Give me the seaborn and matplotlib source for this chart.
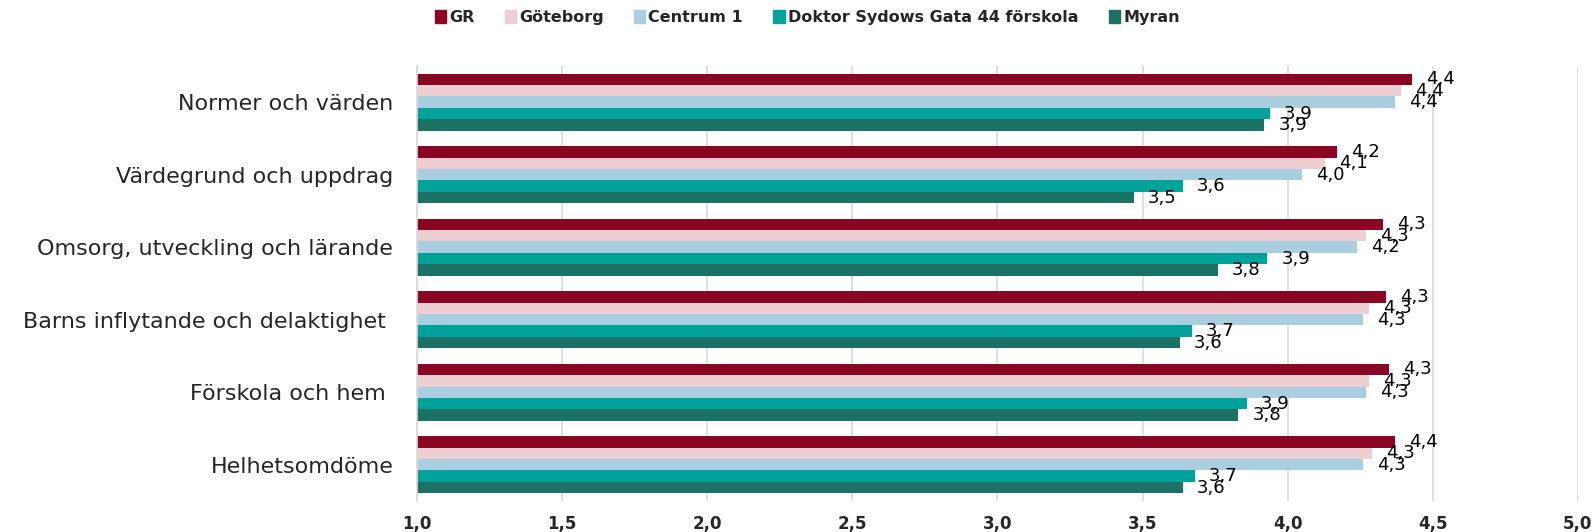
import pandas as pd
import numpy as np
import matplotlib.pyplot as plt
import seaborn as sns

sns.set_theme(style='white')
plt.rcParams['font.family'] = ['DejaVu Sans']

# data
categories = ['Normer och värden', 'Värdegrund och uppdrag',
              'Omsorg, utveckling och lärande',
              'Barns inflytande och delaktighet ', 'Förskola och hem ',
              'Helhetsomdöme']
series = ['GR', 'Göteborg', 'Centrum 1', 'Doktor Sydows Gata 44 förskola', 'Myran']
gr = [4.43, 4.17, 4.33, 4.34, 4.35, 4.37]
goteborg = [4.39, 4.13, 4.27, 4.28, 4.28, 4.29]
centrum = [4.37, 4.05, 4.24, 4.26, 4.27, 4.26]
doktor = [3.94, 3.64, 3.93, 3.67, 3.86, 3.68]
myran = [3.92, 3.47, 3.76, 3.63, 3.83, 3.64]
colors = ['#8B0623', '#EDCFD1', '#A9CEE0', '#00A29A', '#1B7165']

xticks = [1.0, 1.5, 2.0, 2.5, 3.0, 3.5, 4.0, 4.5, 5.0]

values = [gr, goteborg, centrum, doktor, myran]
df = pd.DataFrame({
    'kategori': categories * len(series),
    'enhet': np.repeat(series, len(categories)),
    'varde': np.concatenate(values),
})

fig = plt.figure(figsize=(15.95, 5.32), dpi=100)
ax = fig.add_axes([0.2614, 0.0583, 0.9893 - 0.2614, 0.876 - 0.0583])

sns.barplot(data=df, y='kategori', x='varde', hue='enhet', hue_order=series,
            palette=colors, orient='h', width=0.79, saturation=1,
            linewidth=0, ax=ax, legend=True)

# vardeetiketter med decimalkomma
for cont, vals in zip(ax.containers, values):
    ax.bar_label(cont, labels=[f'{v:.1f}'.replace('.', ',') for v in vals],
                 padding=10, fontsize=13, color='black')

ax.set_xlim(1.0, 5.0)
ax.set_xticks(xticks)
ax.set_xticklabels([f'{t:.1f}'.replace('.', ',') for t in xticks],
                   fontsize=12, fontweight='bold')
ax.tick_params(axis='x', length=0, pad=10)
ax.tick_params(axis='y', which='major', length=0, pad=17, labelsize=16)
ax.set_yticks(np.arange(-0.5, len(categories), 1.0), minor=True)
ax.tick_params(axis='y', which='minor', length=5, color='#D9D9D9', direction='out')
ax.set_xlabel('')
ax.set_ylabel('')
ax.grid(axis='x', color='#D9D9D9', linewidth=1.2)
ax.set_axisbelow(True)
for s in ['top', 'right', 'bottom']:
    ax.spines[s].set_visible(False)
ax.spines['left'].set_color('#D9D9D9')

ax.legend_.remove()
handles = [plt.Rectangle((0, 0), 1, 1, color=c) for c in colors]
fig.legend(handles, series, loc='center', bbox_to_anchor=(0.506, 0.967), ncol=5,
           frameon=False, handlelength=0.7, handleheight=0.9, handletextpad=0.2,
           columnspacing=1.9, prop={'size': 11.5, 'weight': 'bold'})

fig.savefig('out.png', dpi=100)
